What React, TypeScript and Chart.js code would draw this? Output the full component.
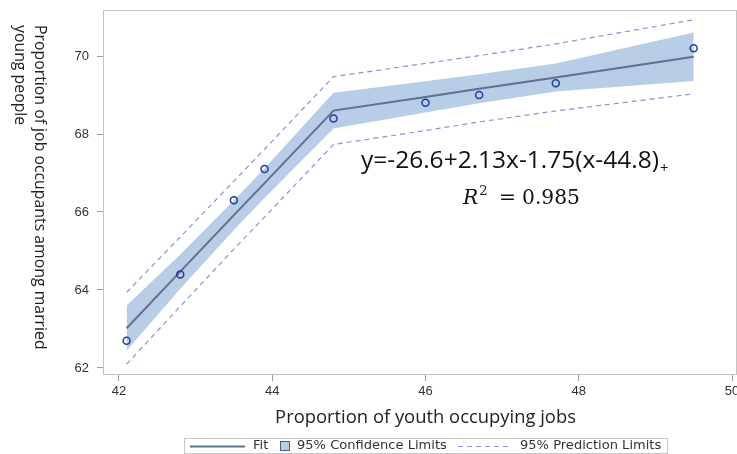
import { useEffect, useRef } from "react";
import { Chart, registerables } from "chart.js";

Chart.register(...registerables);

// Observed values (x: youth share of jobs, y: share among married young people)
const xObs = [42.1, 42.8, 43.5, 43.9, 44.8, 46.0, 46.7, 47.7, 49.5];
const yObs = [62.7, 64.4, 66.3, 67.1, 68.4, 68.8, 69.0, 69.3, 70.2];

// Piecewise-linear fit evaluated at each observation
const fitY = [63.02, 64.47, 65.92, 66.74, 68.6, 68.95, 69.16, 69.45, 69.98];

// 95% confidence limits for the mean
const clUpper = [63.6, 64.91, 66.3, 67.12, 69.06, 69.35, 69.53, 69.81, 70.6];
const clLower = [62.44, 64.03, 65.54, 66.36, 68.14, 68.55, 68.79, 69.09, 69.36];

// 95% prediction limits
const plUpper = [63.94, 65.36, 66.79, 67.61, 69.47, 69.81, 70.01, 70.31, 70.93];
const plLower = [62.1, 63.58, 65.05, 65.87, 67.73, 68.09, 68.31, 68.59, 69.03];

const xTicks = [42, 44, 46, 48, 50];
const yTicks = [62, 64, 66, 68, 70];
const xRange = [41.792, 50.065];
const yRange = [61.8205, 71.1795];

const xTitle = "Proportion of youth occupying jobs";
const yTitleLines = ["Proportion of job occupants among married", "young people"];
const equationText = "y=-26.6+2.13x-1.75(x-44.8)";
const equationSub = "+";
const r2Value = "0.985";
const legendLabels = ["Fit", "95% Confidence Limits", "95% Prediction Limits"];

const FIT_COLOR = "#5f7191";
const BAND_COLOR = "#b8cde6";
const PRED_COLOR = "#8794d4";
const POINT_COLOR = "#1f3d9c";
const FRAME_COLOR = "#c4c4c4";
const TICK_COLOR = "#9c9c9c";
const TEXT_COLOR = "#333333";

const toPoints = (ys: number[]) => xObs.map((x, i) => ({ x, y: ys[i] }));

// font size that makes `text` span `width` pixels in `family`
function fitSize(ctx: CanvasRenderingContext2D, text: string, family: string, width: number, style = "") {
  ctx.font = `${style} 100px ${family}`;
  const w = ctx.measureText(text).width;
  return (100 * width) / w;
}

const decorations = {
  id: "decorations",
  beforeDatasetsDraw(chart: Chart) {
    const { ctx, chartArea: a } = chart;
    ctx.save();
    ctx.strokeStyle = FRAME_COLOR;
    ctx.lineWidth = 1;
    ctx.strokeRect(a.left + 0.5, a.top + 0.5, a.right - a.left - 1, a.bottom - a.top - 1);
    ctx.restore();
  },
  afterDraw(chart: Chart) {
    const { ctx } = chart;
    ctx.save();

    // x axis title
    const openSans = '"Open Sans"';
    let s = fitSize(ctx, xTitle, openSans, 301);
    ctx.font = `${s}px ${openSans}`;
    ctx.fillStyle = "#222";
    ctx.textAlign = "center";
    ctx.textBaseline = "middle";
    ctx.fillText(xTitle, 425.5, 418);

    // y axis title, rotated clockwise, two lines
    s = fitSize(ctx, yTitleLines[0], openSans, 325);
    ctx.save();
    ctx.translate(40, 25);
    ctx.rotate(Math.PI / 2);
    ctx.font = `${s}px ${openSans}`;
    ctx.textAlign = "left";
    ctx.textBaseline = "middle";
    ctx.fillText(yTitleLines[0], 0, 0);
    ctx.fillText(yTitleLines[1], 0, 20);
    ctx.restore();

    // regression equation
    s = fitSize(ctx, equationText, openSans, 298);
    ctx.font = `${s}px ${openSans}`;
    ctx.fillStyle = "#111";
    ctx.textAlign = "left";
    ctx.textBaseline = "alphabetic";
    ctx.fillText(equationText, 361, 168);
    const eqW = ctx.measureText(equationText).width;
    ctx.font = `${s * 0.6}px ${openSans}`;
    ctx.fillText(equationSub, 361 + eqW + 1, 173);

    // R^2 = value
    const serif = '"DejaVu Serif"';
    const rs = fitSize(ctx, r2Value, serif, 58);
    ctx.font = `italic ${rs}px ${serif}`;
    ctx.fillText("R", 463, 204);
    const rW = ctx.measureText("R").width;
    ctx.font = `${rs * 0.65}px ${serif}`;
    ctx.fillText("2", 463 + rW + 1, 195);
    ctx.font = `${rs}px ${serif}`;
    ctx.fillText("=", 499, 204);
    ctx.fillText(r2Value, 522, 204);

    // legend
    const lx = 184, ly = 438, lw = 483, lh = 15;
    ctx.strokeStyle = "#c8c8c8";
    ctx.lineWidth = 1;
    ctx.strokeRect(lx + 0.5, ly + 0.5, lw, lh);
    const cy = 446;
    const dj = '"DejaVu Sans"';
    const ls = fitSize(ctx, legendLabels[1], dj, 150);
    ctx.font = `${ls}px ${dj}`;
    ctx.fillStyle = TEXT_COLOR;
    ctx.textBaseline = "middle";

    ctx.strokeStyle = FIT_COLOR;
    ctx.lineWidth = 2;
    ctx.beginPath();
    ctx.moveTo(190, cy + 0.5);
    ctx.lineTo(245, cy + 0.5);
    ctx.stroke();
    ctx.fillText(legendLabels[0], 253, cy);

    ctx.fillStyle = BAND_COLOR;
    ctx.fillRect(280, cy - 5, 10, 10);
    ctx.strokeStyle = "#4e5d7a";
    ctx.lineWidth = 1;
    ctx.strokeRect(280.5, cy - 4.5, 9, 9);
    ctx.fillStyle = TEXT_COLOR;
    ctx.fillText(legendLabels[1], 297, cy);

    ctx.strokeStyle = PRED_COLOR;
    ctx.lineWidth = 1;
    ctx.setLineDash([5, 4]);
    ctx.beginPath();
    ctx.moveTo(458, cy + 0.5);
    ctx.lineTo(512, cy + 0.5);
    ctx.stroke();
    ctx.setLineDash([]);
    ctx.fillText(legendLabels[2], 520, cy);

    ctx.restore();
  },
};

export default function App() {
  const canvasRef = useRef<HTMLCanvasElement | null>(null);

  useEffect(() => {
    const canvas = canvasRef.current;
    if (!canvas) return;
    Chart.defaults.font.family = '"Liberation Sans", Arial, sans-serif';

    const lineBase = { pointRadius: 0, tension: 0, fill: false };

    const chart = new Chart(canvas, {
      type: "line",
      data: {
        datasets: [
          {
            type: "scatter",
            label: "Observed",
            data: toPoints(yObs),
            showLine: false,
            pointRadius: 3.5,
            pointBorderWidth: 1.5,
            pointBorderColor: POINT_COLOR,
            pointBackgroundColor: "rgba(0,0,0,0)",
            order: 0,
          },
          {
            ...lineBase,
            label: legendLabels[0],
            data: toPoints(fitY),
            borderColor: FIT_COLOR,
            borderWidth: 2,
            order: 1,
          },
          {
            ...lineBase,
            label: "Upper prediction",
            data: toPoints(plUpper),
            borderColor: PRED_COLOR,
            borderWidth: 1.2,
            borderDash: [5, 4],
            order: 2,
          },
          {
            ...lineBase,
            label: "Lower prediction",
            data: toPoints(plLower),
            borderColor: PRED_COLOR,
            borderWidth: 1.2,
            borderDash: [5, 4],
            order: 2,
          },
          {
            ...lineBase,
            label: "Upper confidence",
            data: toPoints(clUpper),
            borderWidth: 0,
            borderColor: "rgba(0,0,0,0)",
            backgroundColor: BAND_COLOR,
            fill: 5,
            order: 3,
          },
          {
            ...lineBase,
            label: "Lower confidence",
            data: toPoints(clLower),
            borderWidth: 0,
            borderColor: "rgba(0,0,0,0)",
            order: 3,
          },
        ],
      } as any,
      options: {
        animation: false,
        responsive: false,
        devicePixelRatio: 1,
        layout: { autoPadding: false, padding: { top: 10, right: -3, left: 0, bottom: 0 } },
        plugins: { legend: { display: false }, tooltip: { enabled: false } },
        scales: {
          x: {
            type: "linear",
            min: xRange[0],
            max: xRange[1],
            afterBuildTicks: (scale: any) => {
              scale.ticks = xTicks.map((value) => ({ value }));
            },
            afterFit: (scale: any) => {
              scale.height = 79;
              scale.paddingLeft = 0;
              scale.paddingRight = 0;
            },
            grid: { display: true, drawOnChartArea: false, drawTicks: true, tickLength: 6, color: TICK_COLOR },
            border: { display: false },
            ticks: { color: TEXT_COLOR, font: { size: 13 }, padding: 3, maxRotation: 0, autoSkip: false },
          },
          y: {
            type: "linear",
            min: yRange[0],
            max: yRange[1],
            afterBuildTicks: (scale: any) => {
              scale.ticks = yTicks.map((value) => ({ value }));
            },
            afterFit: (scale: any) => {
              scale.width = 103;
              scale.paddingTop = 0;
              scale.paddingBottom = 0;
            },
            grid: { display: true, drawOnChartArea: false, drawTicks: true, tickLength: 6, color: TICK_COLOR },
            border: { display: false },
            ticks: { color: TEXT_COLOR, font: { size: 13 }, padding: 8, autoSkip: false },
          },
        },
      } as any,
      plugins: [decorations],
    });

    return () => chart.destroy();
  }, []);

  return (
    <div style={{ position: "fixed", left: 0, top: 0, width: 737, height: 454, overflow: "hidden", background: "#fff" }}>
      <canvas ref={canvasRef} width={737} height={454} style={{ display: "block" }} />
    </div>
  );
}
